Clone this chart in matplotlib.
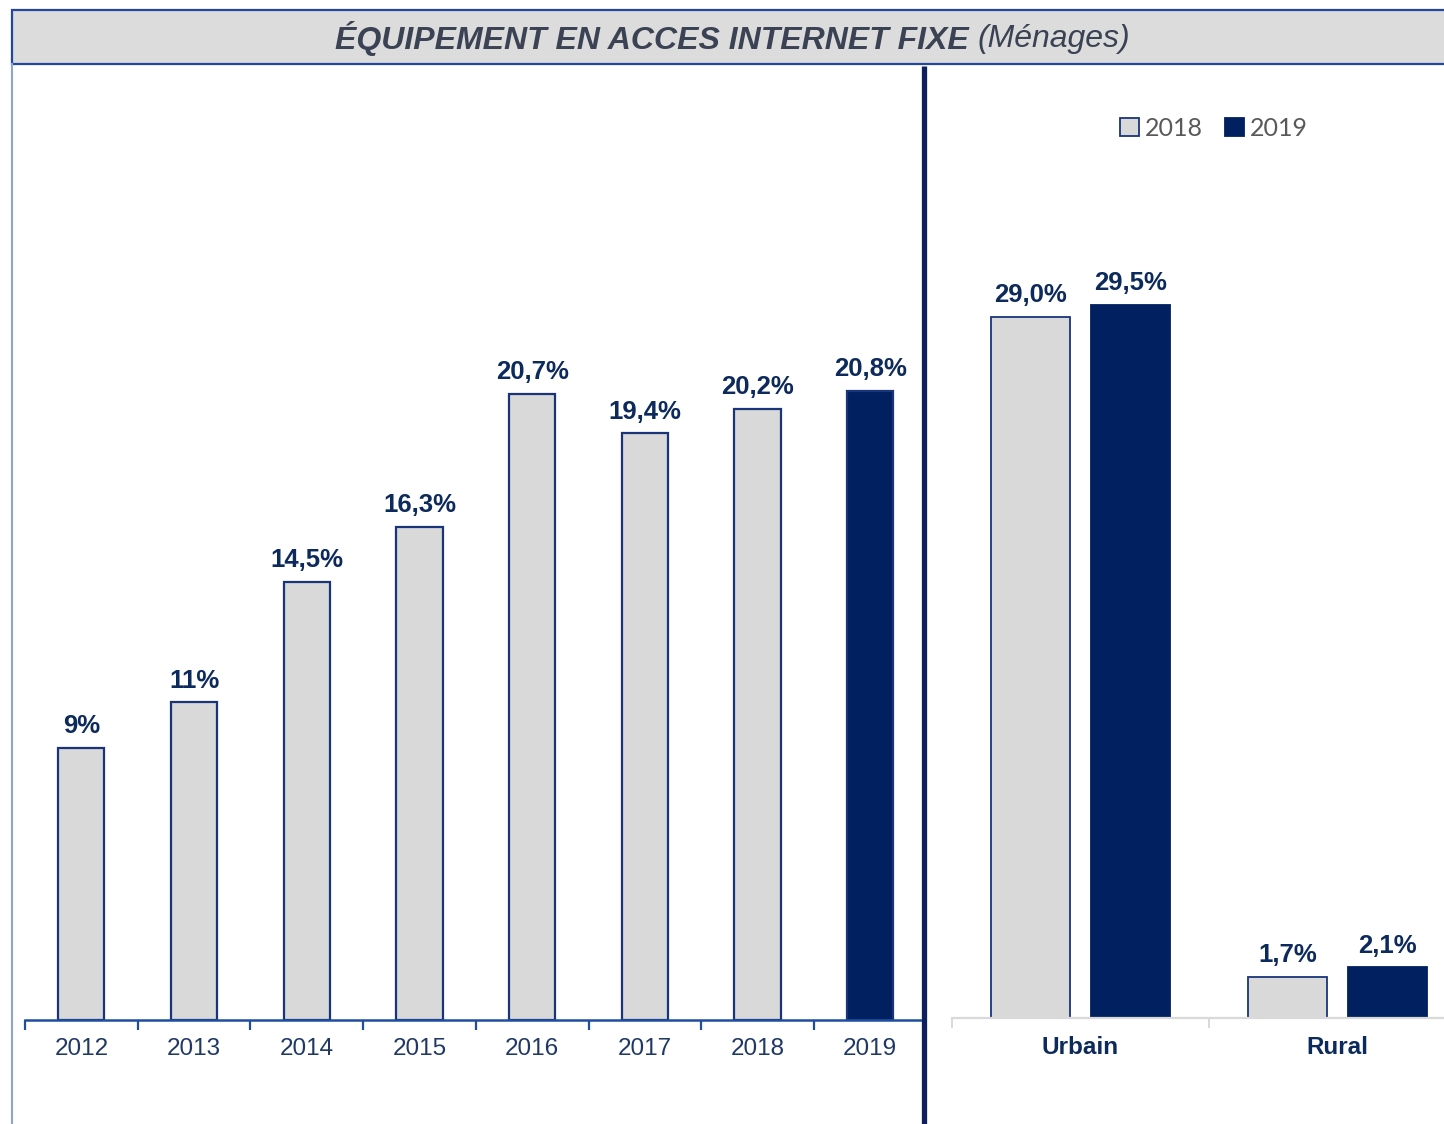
import matplotlib
matplotlib.use("Agg")
import matplotlib.pyplot as plt
from matplotlib.patches import Rectangle
from matplotlib.lines import Line2D
import numpy as np

# ---- data ----
years = ["2012", "2013", "2014", "2015", "2016", "2017", "2018", "2019"]
year_values = [9.0, 10.5, 14.5, 16.3, 20.7, 19.4, 20.2, 20.8]
year_labels = ["9%", "11%", "14,5%", "16,3%", "20,7%", "19,4%", "20,2%", "20,8%"]

zones = ["Urbain", "Rural"]
zone_2018 = [29.0, 1.7]
zone_2019 = [29.5, 2.1]
zone_2018_labels = ["29,0%", "1,7%"]
zone_2019_labels = ["29,5%", "2,1%"]
series_names = ["2018", "2019"]

title_main = "ÉQUIPEMENT EN ACCES INTERNET FIXE"
title_sub = "(Ménages)"

# ---- style ----
W, H = 1444, 1124
GRAY = "#d9d9d9"
NAVY = "#002060"
EDGE = "#1a347a"
LABEL = "#0d2a5c"
TICKTXT = "#1f3864"
FONT = "Liberation Sans"

plt.rcParams['font.family'] = [FONT, 'DejaVu Sans']

fig = plt.figure(figsize=(W / 100, H / 100), dpi=100)

def fx(px):
    return px / W

def fy(py):
    return 1 - py / H

# ---- title box ----
fig.add_artist(Rectangle((fx(12), fy(64)), 1.2, (64 - 10) / H, transform=fig.transFigure,
                         facecolor="#dcdcdc", edgecolor="#2346a0", linewidth=1.6, zorder=0))
fig.add_artist(Line2D([fx(12), fx(12)], [0, fy(64)], transform=fig.transFigure,
                      color="#8ea4d2", linewidth=1.5))
fig.add_artist(Line2D([fx(924), fx(924)], [0, fy(66)], transform=fig.transFigure,
                      color="#0d1f5c", linewidth=3.8, solid_capstyle="butt"))

t1 = fig.text(fx(335), fy(39), title_main, ha="left", va="center", fontsize=23,
              fontweight="bold", fontstyle="italic", color="#3a4253")
fig.canvas.draw()
bb = t1.get_window_extent(renderer=fig.canvas.get_renderer())
fig.text(bb.x1 / W + fx(9), fy(39), title_sub, ha="left", va="center", fontsize=23,
         fontstyle="italic", color="#3a4253")

# ---- left chart ----
axL = fig.add_axes([fx(25), fy(1020), fx(901.6), 31 * 30.24 / H])
x = np.arange(len(years))
colors = [GRAY] * (len(years) - 1) + [NAVY]
axL.bar(x, year_values, width=0.41, color=colors, edgecolor=EDGE, linewidth=1.6, zorder=2)
for xi, v, lab in zip(x, year_values, year_labels):
    axL.annotate(lab, (xi, v), xytext=(0, 7), textcoords="offset points", ha="center",
                 va="bottom", fontsize=18.5, fontweight="bold", color=LABEL)
axL.set_xlim(-0.5, len(years) - 0.5)
axL.set_ylim(0, 31)
axL.set_xticks(x)
axL.set_xticklabels(years, fontsize=17.5, color=TICKTXT)
axL.set_xticks(np.arange(-0.5, len(years) - 0.5, 1), minor=True)
axL.tick_params(axis="x", which="major", length=0, pad=13)
axL.tick_params(axis="x", which="minor", length=7, width=1.6, color="#1f4ea0", direction="out")
axL.set_yticks([])
for s in ["top", "right", "left"]:
    axL.spines[s].set_visible(False)
axL.spines["bottom"].set_color("#1f4ea0")
axL.spines["bottom"].set_linewidth(1.8)
axL.spines["bottom"].set_bounds(-0.5, 7.45)
axL.patch.set_alpha(0)

# ---- right chart ----
axR = fig.add_axes([fx(952), fy(1018), fx(514), 37 * 24.17 / H])
xz = np.arange(len(zones))
off = 0.195
bw = 0.31
b18 = axR.bar(xz - off, zone_2018, width=bw, color=GRAY, edgecolor=EDGE, linewidth=1.3,
              label=series_names[0], zorder=2)
b19 = axR.bar(xz + off, zone_2019, width=bw, color=NAVY, edgecolor=NAVY, linewidth=1.3,
              label=series_names[1], zorder=2)
for xi, v, lab in zip(xz - off, zone_2018, zone_2018_labels):
    axR.annotate(lab, (xi, v), xytext=(0, 7), textcoords="offset points", ha="center",
                 va="bottom", fontsize=18.5, fontweight="bold", color=LABEL)
for xi, v, lab in zip(xz + off, zone_2019, zone_2019_labels):
    axR.annotate(lab, (xi, v), xytext=(0, 7), textcoords="offset points", ha="center",
                 va="bottom", fontsize=18.5, fontweight="bold", color=LABEL)
axR.set_xlim(-0.5, len(zones) - 0.5)
axR.set_ylim(0, 37)
axR.set_xticks(xz)
axR.set_xticklabels(zones, fontsize=17.5, fontweight="bold", color=LABEL)
axR.set_xticks(np.arange(-0.5, len(zones) - 0.5, 1), minor=True)
axR.tick_params(axis="x", which="major", length=0, pad=13)
axR.tick_params(axis="x", which="minor", length=7, width=1.4, color="#d9d9d9", direction="out")
axR.set_yticks([])
for s in ["top", "right", "left"]:
    axR.spines[s].set_visible(False)
axR.spines["bottom"].set_color("#d9d9d9")
axR.spines["bottom"].set_linewidth(1.6)
axR.patch.set_alpha(0)

leg = fig.legend(handles=[b18, b19], loc="center", bbox_to_anchor=(fx(1214), fy(128)),
                 ncol=2, frameon=False, handlelength=0.75, handleheight=0.75,
                 handletextpad=0.25, columnspacing=0.9, prop={"family": "Lato", "size": 18})
for t in leg.get_texts():
    t.set_color("#595959")

fig.savefig("out.png", dpi=100)
